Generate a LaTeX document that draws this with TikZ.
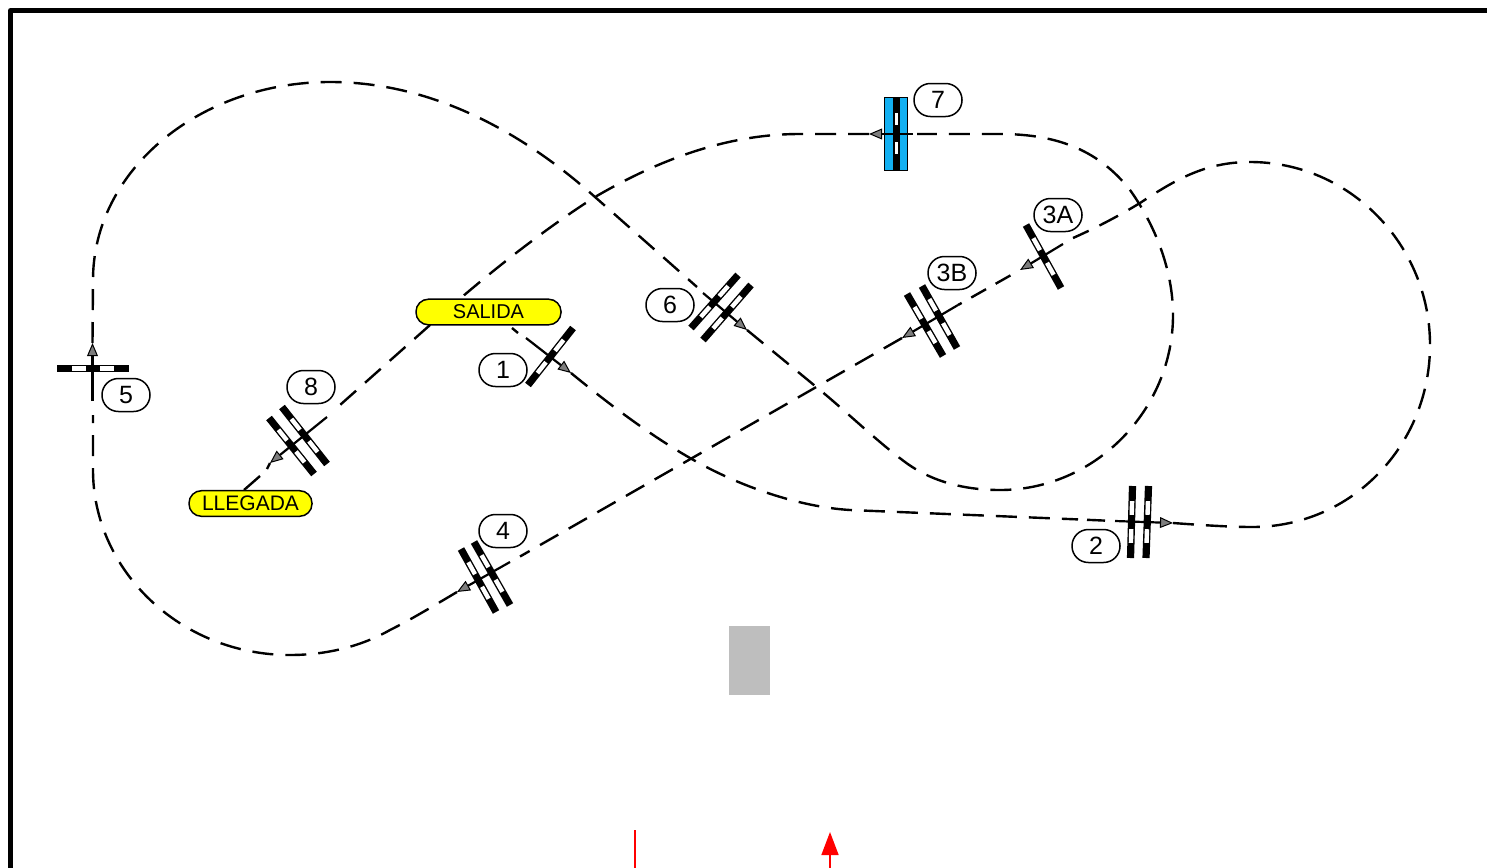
\documentclass[tikz,border=0pt]{standalone}
\usepackage{fontspec}
\setmainfont{Liberation Sans}
\usetikzlibrary{arrows.meta,calc}
\definecolor{gateblue}{RGB}{18,176,242}
\definecolor{padgray}{RGB}{190,190,190}
\definecolor{tagyellow}{RGB}{255,255,0}
\definecolor{tipgray}{RGB}{125,125,125}
\definecolor{signred}{RGB}{255,0,0}
\tikzset{
  route/.style={line width=1.2pt,dash pattern=on 10.5pt off 6pt},
  shortroute/.style={line width=1.2pt,dash pattern=on 8.5pt off 5.5pt,dash phase=8.5pt},
  solidrun/.style={line width=1.1pt,-{Triangle[length=6.5pt,width=5.4pt,fill=tipgray,line width=.5pt]}},
  numtag/.style={draw=black,line width=.75pt,fill=white,rounded corners=8.2pt,minimum width=24pt,minimum height=16.5pt,inner sep=0pt,font=\fontsize{12.5}{12.5}\selectfont},
  placetag/.style={draw=black,line width=.75pt,fill=tagyellow,rounded corners=6.2pt,minimum height=12.8pt,inner sep=0pt},
  barouter/.style={line width=3.6pt,draw=black},
  barinner/.style={line width=2.2pt,draw=white},
}
\newcommand{\gatebar}[2]{%
  \draw[barouter] (#1) -- (#2);
  \draw[barinner] ($(#1)!.21!(#2)$) -- ($(#1)!.40!(#2)$);
  \draw[barinner] ($(#1)!.60!(#2)$) -- ($(#1)!.79!(#2)$);
}
\begin{document}
\begin{tikzpicture}[x=.5pt,y=-.5pt]
\useasboundingbox (0,0) rectangle (1487,867);
\clip (0,0) rectangle (1487,867);
% frame
\draw[line width=2.5pt,line join=round] (10.5,880) -- (10.5,10.5) -- (1500,10.5);
% scenery
\fill[padgray] (729,626) rectangle (770,695);
\coordinate (redA) at (635,830); \coordinate (redB) at (635,880);
\draw[signred,line width=.8pt] (redA) -- (redB);
\coordinate (redC) at (830,880); \coordinate (redD) at (830,832);
\draw[signred,line width=.8pt,-{Triangle[length=11.5pt,width=8.5pt,fill=signred]}] (redC) -- (redD);
% run end points
\coordinate (s1a) at (526,338);  \coordinate (e1a) at (571,373);
\coordinate (s2a) at (1115,521); \coordinate (e2a) at (1173,523);
\coordinate (s3a) at (1063,244); \coordinate (e3a) at (1020,270);
\coordinate (s3b) at (958,305);  \coordinate (e3b) at (902,338);
\coordinate (s4)  at (510,562);  \coordinate (e4)  at (457,592);
\coordinate (s5)  at (92.5,401); \coordinate (e5)  at (92.5,343);
\coordinate (s6)  at (703,293);  \coordinate (e6)  at (747,330);
\coordinate (s7)  at (913,134);  \coordinate (e7)  at (869,134);
\coordinate (s8)  at (327,417);  \coordinate (e8)  at (270,463);
% dash ends, a gap short of each solid run
\coordinate (fromS) at (512,328); \coordinate (fromSend) at (518,333);
\coordinate (q2a) at (1105,520.6); \coordinate (q2b) at (1087,519.8);
\coordinate (q3a) at (1073,238);
\coordinate (q4) at (520,556.5);
\coordinate (q5) at (93,415);
\coordinate (q6) at (697,287);
\coordinate (q7) at (917,134);
\coordinate (q8) at (340,405);
\coordinate (tail8) at (267,469);
\coordinate (toL) at (244,490); \coordinate (toLend) at (260,476);
% dashed route
\draw[line width=1.2pt] (fromS) -- (fromSend);
\draw[route] (e1a) .. controls (610,405) and (650,435) .. (690,458) .. controls (740,487) and (800,507) .. (850,510) -- (1078,519.4);
\draw[line width=1.2pt] (q2b) -- (q2a);
\draw[route] (e2a) .. controls (1200,525) and (1230,527) .. (1252,527) .. controls (1352,527) and (1430,445) .. (1430,345) .. controls (1430,245) and (1350,162) .. (1250,162) .. controls (1205,162) and (1175,180) .. (1140,203) .. controls (1122,214) and (1100,226) .. (q3a);
\draw[shortroute] (e3a) -- (s3b);
\draw[route] (e3b) -- (q4);
\draw[route] (e4) .. controls (430,608) and (410,620) .. (390,630) .. controls (360,647) and (325,655) .. (290,655) .. controls (180,655) and (93,570) .. (93,470) -- (q5);
\draw[route] (e5) -- (93,280) .. controls (93,170) and (200,82) .. (330,82) .. controls (430,82) and (520,130) .. (595,197) -- (q6);
\draw[route] (e6) -- (820,390) .. controls (850,415) and (878,442) .. (905,462) .. controls (932,482) and (965,490) .. (1000,490) .. controls (1095,490) and (1173,410) .. (1173,315) .. controls (1173,270) and (1155,225) .. (1130,190) .. controls (1100,152) and (1060,134) .. (1000,134) -- (q7);
\draw[route] (e7) -- (800,134) .. controls (720,134) and (650,165) .. (595,197) .. controls (540,232) and (480,280) .. (430,325) -- (q8);
\draw[line width=1.2pt] (toL) -- (toLend);
\draw[line width=1.2pt] (e8) -- (tail8);
% gate 7 body (under its run)
\draw[fill=gateblue,line width=.5pt] (884,97.5) rectangle (907,170);
\fill[black] (892.5,98) rectangle (900,170);
\fill[white] (894.5,113) rectangle (898,125);
\fill[white] (894.5,142) rectangle (898,154);
% solid runs
\draw[solidrun] (s1a) -- (e1a);
\draw[solidrun] (s2a) -- (e2a);
\draw[solidrun] (s3a) -- (e3a);
\draw[solidrun] (s3b) -- (e3b);
\draw[solidrun] (s4) -- (e4);
\draw[solidrun] (s5) -- (e5);
\draw[solidrun] (s6) -- (e6);
\draw[solidrun] (s7) -- (e7);
\draw[solidrun] (s8) -- (e8);
% gates
\coordinate (g1a) at (528,385); \coordinate (g1b) at (573,328); \gatebar{g1a}{g1b}
\coordinate (g2a) at (1132.5,486); \coordinate (g2b) at (1130.5,558); \gatebar{g2a}{g2b}
\coordinate (g2c) at (1148.5,486); \coordinate (g2d) at (1146,558); \gatebar{g2c}{g2d}
\coordinate (g3a) at (1026,225); \coordinate (g3b) at (1061,288); \gatebar{g3a}{g3b}
\coordinate (g3c) at (907,294); \coordinate (g3d) at (943,356); \gatebar{g3c}{g3d}
\coordinate (g3e) at (922,286); \coordinate (g3f) at (957,348); \gatebar{g3e}{g3f}
\coordinate (g4a) at (461,549); \coordinate (g4b) at (496,612); \gatebar{g4a}{g4b}
\coordinate (g4c) at (474,542); \coordinate (g4d) at (510,605); \gatebar{g4c}{g4d}
\coordinate (g5a) at (57,368.5); \coordinate (g5b) at (129,368.5); \gatebar{g5a}{g5b}
\coordinate (g6a) at (738,275); \coordinate (g6b) at (691,328); \gatebar{g6a}{g6b}
\coordinate (g6c) at (751,285); \coordinate (g6d) at (703,340); \gatebar{g6c}{g6d}
\coordinate (g8a) at (269,418); \coordinate (g8b) at (314,474); \gatebar{g8a}{g8b}
\coordinate (g8c) at (282,407); \coordinate (g8d) at (327,464); \gatebar{g8c}{g8d}
% place tags
\node[placetag,minimum width=72.5pt,font=\fontsize{10}{10}\selectfont] (salida) at (488.5,312) {SALIDA};
\node[placetag,minimum width=61.5pt,font=\fontsize{10.5}{10.5}\selectfont] (llegada) at (250.5,503.5) {LLEGADA};
% number tags
\node[numtag] (n1) at (503,370) {1};
\node[numtag] (n2) at (1096,546) {2};
\node[numtag] (n3a) at (1058,215) {3A};
\node[numtag] (n3b) at (952,273) {3B};
\node[numtag] (n4) at (503,531) {4};
\node[numtag] (n5) at (126,395) {5};
\node[numtag] (n6) at (670,305) {6};
\node[numtag] (n7) at (938,100) {7};
\node[numtag] (n8) at (311,387) {8};
\end{tikzpicture}
\end{document}
